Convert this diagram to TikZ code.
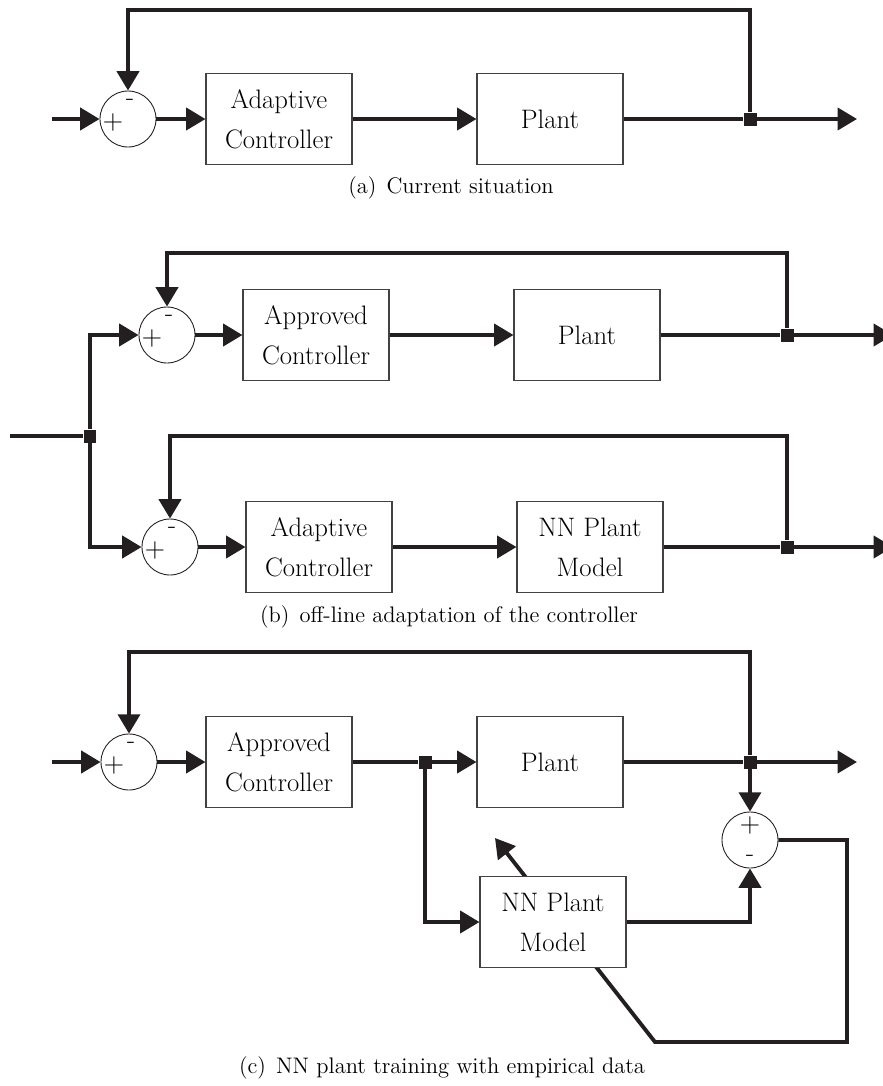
\documentclass[tikz,border=0pt]{standalone}
\usetikzlibrary{arrows.meta}
\definecolor{ink}{RGB}{35,31,32}

\begin{document}
\begin{tikzpicture}
[
    x=0.02cm, y=-0.02cm,
    conn/.style={draw=ink, line width=2.2pt, -{Triangle[length=11pt,width=12.5pt]}},
    wire/.style={draw=ink, line width=2.2pt},
    block/.style={draw=ink!85, line width=0.6pt, fill=white, minimum width=2.92cm, minimum height=1.82cm, inner sep=1pt, align=center, font=\fontsize{15.2}{22.7}\selectfont},
    plussign/.style={inner sep=0pt, font=\fontsize{16}{16}\selectfont},
    minussign/.style={inner sep=0pt, font=\fontsize{15}{15}\selectfont},
    sumbase/.style={draw=ink, line width=0.5pt, circle, minimum size=1.12cm, inner sep=0pt},
    sumH/.style={sumbase,
        label={[plussign, xshift=-0.3cm, yshift=-0.06cm]center:+},
        label={[minussign, xshift=0.04cm, yshift=0.34cm]center:-}},
    sumV/.style={sumbase,
        label={[plussign, yshift=0.3cm]center:+},
        label={[minussign, yshift=-0.36cm]center:-}},
    junct/.style={fill=ink, rectangle, minimum size=0.26cm, inner sep=0pt},
    caption/.style={font=\fontsize{12.8}{15}\selectfont}
]
    \useasboundingbox (0,0) rectangle (883,1086);

    \begin{scope}
        \coordinate (ina) at (52,119);
        \node [sumH] (suma) at (128,119) {};
        \node [block] (ctrla) at (279,119) {Adaptive\\Controller};
        \node [block] (planta) at (550,119) {Plant};
        \node [junct] (ja) at (750,119) {};
        \coordinate (outa) at (857,119);
        \draw [conn] (ina) -- (suma);
        \draw [conn] (suma) -- (ctrla);
        \draw [conn] (ctrla) -- (planta);
        \draw [wire] (planta) -- (ja);
        \draw [conn] (ja) -- (outa);
        \draw [conn] (ja) -- ++(0,-109) -| (suma);
        \node [caption] (capa) at (451,188) {(a)\hspace{0.45em}Current situation};
    \end{scope}

    \begin{scope}
        \coordinate (inb) at (10,436);
        \node [junct] (jin) at (90,436) {};
        \node [sumH] (sumb1) at (167,335) {};
        \node [block] (ctrlb1) at (316,335) {Approved\\Controller};
        \node [block] (plantb) at (587,335) {Plant};
        \node [junct] (jb1) at (787,335) {};
        \coordinate (outb1) at (893,335);
        \node [sumH] (sumb2) at (170,547) {};
        \node [block] (ctrlb2) at (319,547) {Adaptive\\Controller};
        \node [block] (modelb) at (590,547) {NN Plant\\Model};
        \node [junct] (jb2) at (787,547) {};
        \coordinate (outb2) at (893,547);
        \draw [wire] (inb) -- (jin);
        \draw [conn] (jin) |- (sumb1);
        \draw [conn] (jin) |- (sumb2);
        \draw [conn] (sumb1) -- (ctrlb1);
        \draw [conn] (ctrlb1) -- (plantb);
        \draw [wire] (plantb) -- (jb1);
        \draw [conn] (jb1) -- (outb1);
        \draw [conn] (jb1) -- ++(0,-82) -| (sumb1);
        \draw [conn] (sumb2) -- (ctrlb2);
        \draw [conn] (ctrlb2) -- (modelb);
        \draw [wire] (modelb) -- (jb2);
        \draw [conn] (jb2) -- (outb2);
        \draw [conn] (jb2) -- ++(0,-111) -| (sumb2);
        \node [caption] (capb) at (449,617) {(b)\hspace{0.45em}off-line adaptation of the controller};
    \end{scope}

    \begin{scope}
        \coordinate (inc) at (52,762);
        \node [sumH] (sumc1) at (129,762) {};
        \node [block] (ctrlc) at (279,762) {Approved\\Controller};
        \node [junct] (jc1) at (425,762) {};
        \node [block] (plantc) at (550,762) {Plant};
        \node [junct] (jc2) at (750,762) {};
        \coordinate (outc) at (857,762);
        \node [sumV] (sumc2) at (750,840) {};
        \coordinate (loop) at (847,1042);
        \coordinate (knee) at (655,1042);
        \coordinate (tipc) at (495,838);
        \draw [conn] (sumc2) -| (loop) -- (knee) -- (tipc);
        \node [block] (modelc) at (553,922) {NN Plant\\Model};
        \draw [conn] (inc) -- (sumc1);
        \draw [conn] (sumc1) -- (ctrlc);
        \draw [wire] (ctrlc) -- (jc1);
        \draw [conn] (jc1) -- (plantc);
        \draw [wire] (plantc) -- (jc2);
        \draw [conn] (jc2) -- (outc);
        \draw [conn] (jc2) -- ++(0,-110) -| (sumc1);
        \draw [conn] (jc2) -- (sumc2);
        \draw [conn] (jc1) |- (modelc);
        \draw [conn] (modelc) -| (sumc2);
        \node [caption] (capc) at (442,1068) {(c)\hspace{0.45em}NN plant training with empirical data};
    \end{scope}
\end{tikzpicture}
\end{document}
